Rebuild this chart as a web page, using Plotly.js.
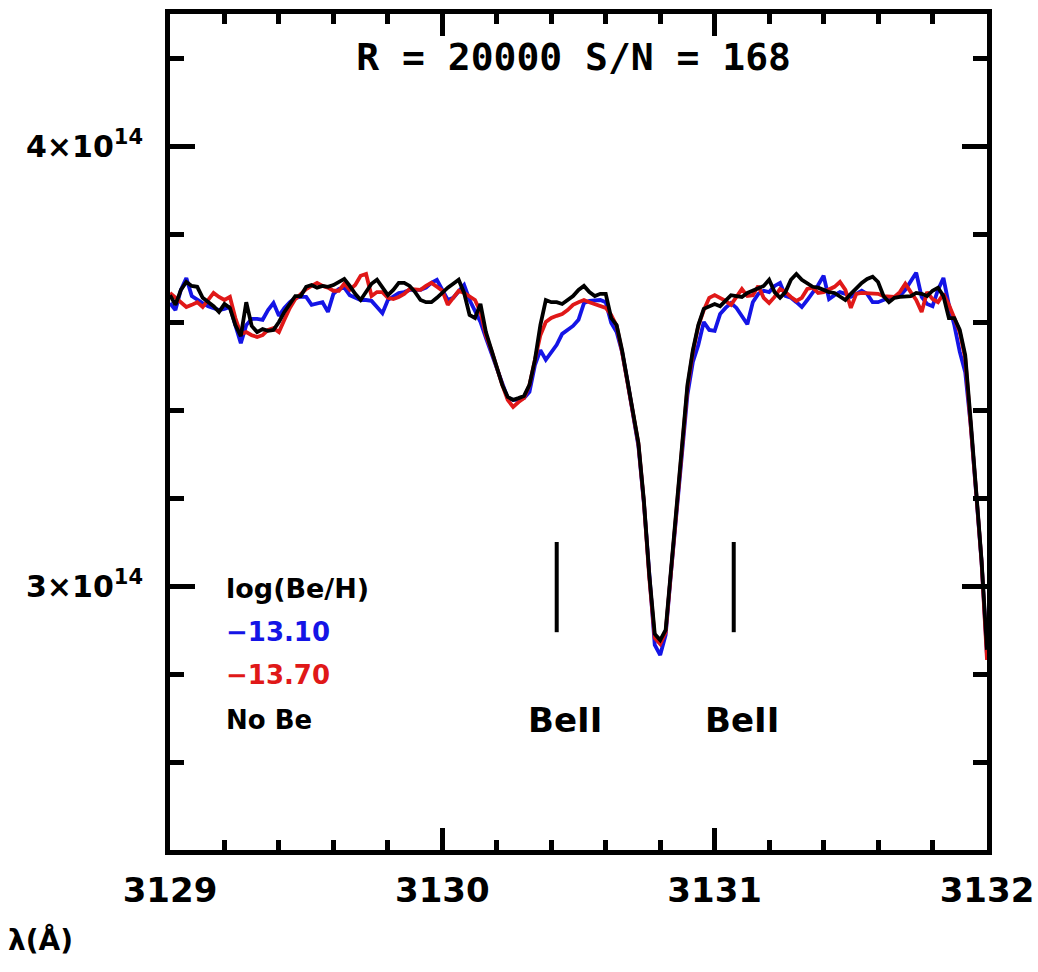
<!DOCTYPE html>
<html>
<head>
<meta charset="utf-8">
<script src="https://cdn.plot.ly/plotly-3.0.1.min.js"></script>
<style>html,body{margin:0;padding:0;background:#fff;}#chart{width:1038px;height:972px;}</style>
</head>
<body>
<div id="chart"></div>
<script>
// Wavelength grid (Angstrom)
const wavelength = [
3129.00,3129.02,3129.04,3129.06,3129.08,3129.10,3129.12,3129.14,3129.16,3129.18,
3129.20,3129.22,3129.24,3129.26,3129.28,3129.30,3129.32,3129.34,3129.36,3129.38,
3129.40,3129.42,3129.44,3129.46,3129.48,3129.50,3129.52,3129.54,3129.56,3129.58,
3129.60,3129.62,3129.64,3129.66,3129.68,3129.70,3129.72,3129.74,3129.76,3129.78,
3129.80,3129.82,3129.84,3129.86,3129.88,3129.90,3129.92,3129.94,3129.96,3129.98,
3130.00,3130.02,3130.04,3130.06,3130.08,3130.10,3130.12,3130.14,3130.16,3130.18,
3130.20,3130.22,3130.24,3130.26,3130.28,3130.30,3130.32,3130.34,3130.36,3130.38,
3130.40,3130.42,3130.44,3130.46,3130.48,3130.50,3130.52,3130.54,3130.56,3130.58,
3130.60,3130.62,3130.64,3130.66,3130.68,3130.70,3130.72,3130.74,3130.76,3130.78,
3130.80,3130.82,3130.84,3130.86,3130.88,3130.90,3130.92,3130.94,3130.96,3130.98,
3131.00,3131.02,3131.04,3131.06,3131.08,3131.10,3131.12,3131.14,3131.16,3131.18,
3131.20,3131.22,3131.24,3131.26,3131.28,3131.30,3131.32,3131.34,3131.36,3131.38,
3131.40,3131.42,3131.44,3131.46,3131.48,3131.50,3131.52,3131.54,3131.56,3131.58,
3131.60,3131.62,3131.64,3131.66,3131.68,3131.70,3131.72,3131.74,3131.76,3131.78,
3131.80,3131.82,3131.84,3131.86,3131.88,3131.90,3131.92,3131.94,3131.96,3131.98,
3132.00];

// Flux in units of 1e14
const FLUX_UNIT = 1e14;

const fluxBe1310 = [
3.643,3.627,3.673,3.700,3.659,3.650,3.643,3.636,3.632,3.627,
3.630,3.634,3.593,3.552,3.593,3.607,3.607,3.605,3.627,3.643,
3.614,3.632,3.645,3.655,3.657,3.657,3.639,3.641,3.645,3.623,
3.664,3.675,3.678,3.661,3.655,3.650,3.650,3.648,3.634,3.620,
3.650,3.659,3.666,3.668,3.673,3.673,3.673,3.678,3.689,3.696,
3.675,3.650,3.655,3.671,3.684,3.650,3.623,3.600,3.564,3.532,
3.495,3.461,3.427,3.423,3.423,3.427,3.441,3.502,3.536,3.514,
3.532,3.548,3.573,3.582,3.591,3.605,3.643,3.648,3.650,3.650,
3.645,3.598,3.577,3.532,3.464,3.391,3.318,3.189,3.014,2.866,
2.843,2.889,3.032,3.173,3.316,3.434,3.509,3.548,3.600,3.582,
3.580,3.618,3.632,3.643,3.632,3.614,3.595,3.645,3.664,3.671,
3.668,3.682,3.689,3.659,3.655,3.645,3.634,3.650,3.666,3.684,
3.705,3.652,3.661,3.668,3.664,3.657,3.664,3.671,3.664,3.645,
3.645,3.650,3.655,3.657,3.659,3.673,3.691,3.712,3.657,3.641,
3.636,3.673,3.700,3.639,3.593,3.532,3.486,3.366,3.211,3.055,
2.843];

const fluxBe1370 = [
3.666,3.655,3.643,3.634,3.639,3.645,3.634,3.650,3.666,3.657,
3.650,3.657,3.609,3.573,3.577,3.570,3.566,3.570,3.582,3.586,
3.577,3.605,3.632,3.652,3.664,3.675,3.682,3.689,3.682,3.678,
3.671,3.671,3.687,3.673,3.684,3.705,3.709,3.659,3.668,3.668,
3.655,3.652,3.657,3.664,3.675,3.675,3.673,3.682,3.689,3.680,
3.671,3.639,3.655,3.671,3.666,3.657,3.650,3.623,3.570,3.536,
3.495,3.457,3.423,3.407,3.418,3.427,3.457,3.509,3.570,3.600,
3.609,3.614,3.618,3.627,3.639,3.645,3.650,3.645,3.641,3.636,
3.632,3.616,3.591,3.532,3.464,3.393,3.323,3.191,3.018,2.882,
2.868,2.895,3.036,3.182,3.327,3.450,3.532,3.591,3.627,3.655,
3.661,3.655,3.648,3.639,3.659,3.675,3.659,3.661,3.682,3.655,
3.643,3.657,3.675,3.668,3.657,3.648,3.655,3.675,3.678,3.666,
3.668,3.673,3.680,3.691,3.673,3.632,3.664,3.666,3.666,3.666,
3.664,3.659,3.657,3.657,3.668,3.687,3.668,3.650,3.623,3.668,
3.652,3.645,3.664,3.639,3.609,3.577,3.518,3.373,3.214,3.055,
2.832];

const fluxNoBe = [
3.661,3.639,3.673,3.691,3.682,3.680,3.655,3.645,3.636,3.623,
3.641,3.632,3.593,3.568,3.645,3.591,3.577,3.584,3.580,3.582,
3.600,3.623,3.643,3.659,3.659,3.680,3.684,3.678,3.682,3.680,
3.684,3.691,3.698,3.682,3.664,3.650,3.668,3.687,3.696,3.678,
3.661,3.673,3.689,3.689,3.682,3.668,3.650,3.645,3.645,3.655,
3.668,3.678,3.687,3.696,3.666,3.616,3.609,3.641,3.577,3.536,
3.495,3.457,3.430,3.423,3.427,3.432,3.457,3.514,3.593,3.650,
3.645,3.645,3.641,3.650,3.659,3.673,3.682,3.668,3.659,3.664,
3.664,3.609,3.593,3.536,3.468,3.395,3.325,3.195,3.025,2.891,
2.877,2.900,3.041,3.185,3.332,3.457,3.536,3.593,3.630,3.636,
3.641,3.636,3.650,3.661,3.659,3.657,3.666,3.671,3.675,3.682,
3.696,3.668,3.655,3.668,3.696,3.709,3.696,3.687,3.680,3.678,
3.673,3.668,3.666,3.657,3.650,3.664,3.678,3.689,3.698,3.703,
3.691,3.659,3.645,3.655,3.657,3.657,3.659,3.666,3.664,3.659,
3.671,3.678,3.659,3.609,3.609,3.582,3.525,3.377,3.218,3.059,
2.855];

// Be II line markers
const bellWavelengths = [3130.42, 3131.07];
const bellMarkTop = 3.10;     // x1e14
const bellMarkBottom = 2.895; // x1e14
const bellLabelFlux = 2.695;  // x1e14

// Legend texts
const legendHeader = 'log(Be/H)';
const seriesNames = ['\u221213.10', '\u221213.70', 'No Be'];
const seriesColors = ['#1414e6', '#e01818', '#000000'];
const legendFlux = [2.895, 2.798, 2.695];  // x1e14
const legendHeaderFlux = 2.995;
const legendWavelength = 3129.20;

const titleText = 'R = 20000 S/N = 168';
const xLabelText = '\u03bb(\u00c5)';

const scale = a => a.map(v => v * FLUX_UNIT);
const series = [fluxBe1310, fluxBe1370, fluxNoBe];

const traces = series.map((s, k) => ({
  type: 'scatter', mode: 'lines', x: wavelength, y: scale(s),
  name: seriesNames[k], line: {color: seriesColors[k], width: 3.8}, showlegend: false
}));

// Be II tick marks
const bx = [], by = [];
bellWavelengths.forEach(w => { bx.push(w, w, null); by.push(bellMarkTop*FLUX_UNIT, bellMarkBottom*FLUX_UNIT, null); });
traces.push({type:'scatter', mode:'lines', x: bx, y: by, line:{color:'#000', width:4}, showlegend:false, hoverinfo:'skip', name:'Be II lines'});

const boldFont = (size, color) => ({family: 'DejaVu Sans', size: size, color: color || '#000', weight: 'bold'});

const annotations = [];
annotations.push({x: legendWavelength, y: legendHeaderFlux*FLUX_UNIT, xref:'x', yref:'y', text: legendHeader,
  showarrow:false, xanchor:'left', yanchor:'middle', font: boldFont(27)});
seriesNames.forEach((n, k) => annotations.push({x: legendWavelength, y: legendFlux[k]*FLUX_UNIT, xref:'x', yref:'y',
  text: n, showarrow:false, xanchor:'left', yanchor:'middle', font: boldFont(26, seriesColors[k])}));
bellWavelengths.forEach(w => annotations.push({x: w + 0.03, y: bellLabelFlux*FLUX_UNIT, xref:'x', yref:'y',
  text: 'BeII', showarrow:false, xanchor:'center', yanchor:'middle', font: boldFont(34)}));
annotations.push({x: -0.201, y: -0.108, xref:'paper', yref:'paper', text: xLabelText, showarrow:false,
  xanchor:'left', yanchor:'middle', font: boldFont(28)});

const axisCommon = {
  showline: true, linewidth: 5, linecolor: '#000', mirror: 'allticks', ticks: 'inside',
  tickcolor: '#000', tickwidth: 5, showgrid: false, zeroline: false
};

const layout = {
  width: 1038, height: 972,
  margin: {l: 170, r: 51, t: 14, b: 122},
  paper_bgcolor: '#fff', plot_bgcolor: '#fff',
  title: {text: titleText, x: 0.494, y: 0.942, xanchor: 'center', yanchor: 'middle', xref: 'paper',
    font: {family: 'DejaVu Sans Mono', size: 38, color: '#000', weight: 'bold'}},
  xaxis: Object.assign({}, axisCommon, {
    range: [3129, 3132], tickmode: 'linear', tick0: 3129, dtick: 1, ticklen: 22,
    minor: {dtick: 0.2, tick0: 3129, ticklen: 10, tickwidth: 5, tickcolor: '#000', ticks: 'inside'},
    tickfont: boldFont(34), ticklabelstandoff: 6
  }),
  yaxis: Object.assign({}, axisCommon, {
    range: [2.40e14, 4.30e14], tickmode: 'linear', tick0: 0, dtick: 1e14, ticklen: 25,
    exponentformat: 'power', showexponent: 'all',
    minor: {dtick: 0.2e14, tick0: 0, ticklen: 14, tickwidth: 5, tickcolor: '#000', ticks: 'inside'},
    tickfont: boldFont(30), ticklabelstandoff: 16
  }),
  annotations: annotations,
  showlegend: false
};

Plotly.newPlot('chart', traces, layout, {displayModeBar: false, staticPlot: true});
</script>
</body>
</html>
